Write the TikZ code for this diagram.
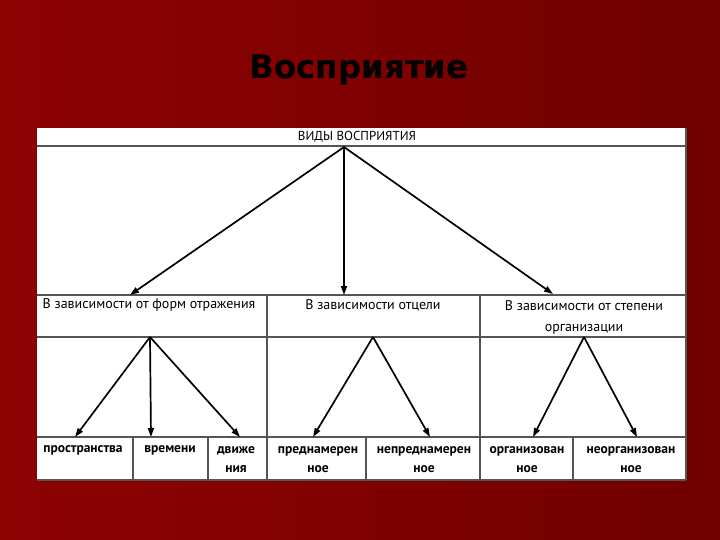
\documentclass[tikz,border=0pt]{standalone}
\usepackage{fontspec}
\setmainfont{PT Sans}
\newfontfamily\titlefont{DejaVu Sans}
\usetikzlibrary{arrows.meta}
\definecolor{redleft}{RGB}{142,2,2}
\definecolor{redright}{RGB}{112,0,0}
\definecolor{gridgray}{RGB}{85,85,85}
\begin{document}
\begin{tikzpicture}[x=1pt,y=-1pt,>={Triangle[length=9pt,width=6pt]}]
  \tikzstyle{every node}=[inner sep=0pt,align=center]
  \tikzstyle{kind}=[font=\fontsize{14}{21}\selectfont]
  \tikzstyle{leaf}=[font=\bfseries\fontsize{13.5}{19}\selectfont]
  \tikzstyle{grid}=[line width=1.6pt,draw=gridgray]
  \tikzstyle{link}=[->,line width=1.7pt]
  \useasboundingbox (0,0) rectangle (720,540);
  \shade[left color=redleft,right color=redright] (0,0) rectangle (720,540);
  \node (title) at (359,70) {\titlefont\bfseries\fontsize{32.5}{38}\selectfont Восприятие};
  % table
  \fill[white] (37,128) rectangle (686,480);
  \draw[grid] (37,146) -- (686,146);
  \draw[grid] (37,295) -- (686,295);
  \draw[grid] (37,337) -- (686,337);
  \draw[grid] (37,437) -- (686,437);
  \draw[grid] (37,480) -- (686,480);
  \draw[grid] (686,128) -- (686,480);
  \draw[grid] (267,295) -- (267,480);
  \draw[grid] (480,295) -- (480,480);
  \draw[grid] (133,437) -- (133,480);
  \draw[grid] (208,437) -- (208,480);
  \draw[grid] (366,437) -- (366,480);
  \draw[grid] (573,437) -- (573,480);
  % texts
  \node (kinds) at (357,137) {\fontsize{13}{15}\selectfont ВИДЫ ВОСПРИЯТИЯ};
  \node[kind] (form) at (149,305) {В зависимости от форм отражения};
  \node[kind] (goal) at (373,305) {В зависимости отцели};
  \node[kind] (org) at (584,317) {В зависимости от степени\\организации};
  \node[leaf] (space) at (83,450) {пространства};
  \node[leaf] (time) at (170,450) {времени};
  \node[leaf] (motion) at (236,460) {движе\\ния};
  \node[leaf] (inten) at (318,460) {преднамерен\\ное};
  \node[leaf] (uninten) at (424,460) {непреднамерен\\ное};
  \node[leaf] (orgd) at (527,460) {организован\\ное};
  \node[leaf] (unorgd) at (631,460) {неорганизован\\ное};
  % arrow ends
  \coordinate (kindsfoot) at (344,147);
  \coordinate (formtop) at (130,295);
  \coordinate (goaltop) at (344,295);
  \coordinate (orgtop) at (553,294);
  \coordinate (formfoot) at (150,337);
  \coordinate (goalfoot) at (373,337);
  \coordinate (orgfoot) at (584,337);
  \coordinate (spacetop) at (75,437);
  \coordinate (timetop) at (151,437);
  \coordinate (motiontop) at (240,437);
  \coordinate (intentop) at (313,437);
  \coordinate (unintentop) at (430,437);
  \coordinate (orgdtop) at (533,437);
  \coordinate (unorgdtop) at (637,437);
  \draw[link] (kindsfoot) -- (formtop);
  \draw[link] (kindsfoot) -- (goaltop);
  \draw[link] (kindsfoot) -- (orgtop);
  \draw[link] (formfoot) -- (spacetop);
  \draw[link] (formfoot) -- (timetop);
  \draw[link] (formfoot) -- (motiontop);
  \draw[link] (goalfoot) -- (intentop);
  \draw[link] (goalfoot) -- (unintentop);
  \draw[link] (orgfoot) -- (orgdtop);
  \draw[link] (orgfoot) -- (unorgdtop);
\end{tikzpicture}
\end{document}
